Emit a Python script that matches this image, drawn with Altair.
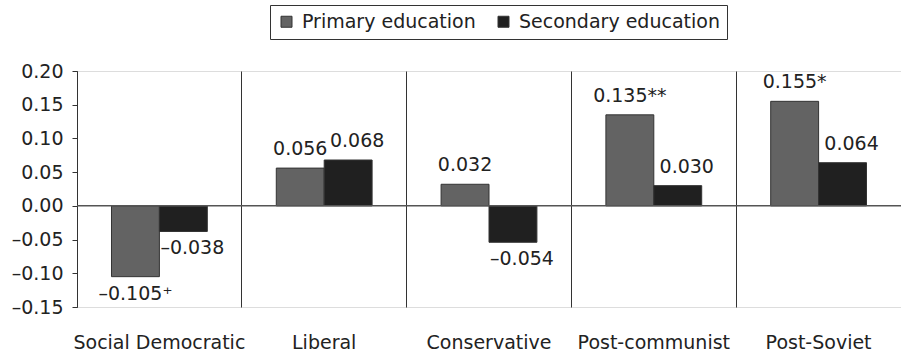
import altair as alt
import pandas as pd

categories = ["Social Democratic", "Liberal", "Conservative", "Post-communist", "Post-Soviet"]
series = ["Primary education", "Secondary education"]
primary_values = [-0.105, 0.056, 0.032, 0.135, 0.155]
secondary_values = [-0.038, 0.068, -0.054, 0.030, 0.064]
primary_labels = ["–0.105⁺", "0.056", "0.032", "0.135**", "0.155*"]
secondary_labels = ["–0.038", "0.068", "–0.054", "0.030", "0.064"]
y_ticks = [-0.15, -0.10, -0.05, 0.0, 0.05, 0.10, 0.15, 0.20]
colors = ["#636363", "#202020"]

FONT = "DejaVu Sans"
FS = 19

rows = []
for c, v, l in zip(categories, primary_values, primary_labels):
    rows.append({"category": c, "series": series[0], "value": v, "label": l})
for c, v, l in zip(categories, secondary_values, secondary_labels):
    rows.append({"category": c, "series": series[1], "value": v, "label": l})
df = pd.DataFrame(rows)

x_enc = alt.X(
    "category:N",
    sort=categories,
    scale=alt.Scale(paddingInner=0, paddingOuter=0),
    axis=alt.Axis(
        title=None, domain=False, ticks=False, grid=True, gridColor="#333333",
        gridWidth=1, bandPosition=0, labelAngle=0, labelPadding=26,
        labelFontSize=FS, labelFont=FONT, labelColor="#222222", labelLimit=300,
    ),
)
xoff_enc = alt.XOffset("series:N", sort=series, scale=alt.Scale(paddingInner=0, paddingOuter=0.72))
y_scale = alt.Scale(domain=[-0.15, 0.20], nice=False)
y_enc = alt.Y(
    "value:Q",
    scale=y_scale,
    axis=alt.Axis(
        title=None, values=y_ticks, grid=False, domainColor="#333333", tickColor="#333333",
        tickSize=5, labelPadding=9, labelFontSize=FS, labelFont=FONT, labelColor="#222222",
        labelOverlap=False, labelFlush=False,
        labelExpr="datum.value < 0 ? '–' + format(-datum.value, '.2f') : format(datum.value, '.2f')",
    ),
)

base = alt.Chart(df)

bars = base.mark_bar(stroke="#333333", strokeWidth=1).encode(
    x=x_enc,
    xOffset=xoff_enc,
    y=y_enc,
    color=alt.Color(
        "series:N",
        sort=series,
        scale=alt.Scale(domain=series, range=colors),
        legend=alt.Legend(
            title=None, orient="none", legendX=193, legendY=-66, direction="horizontal",
            strokeColor="#333333", fillColor="white", padding=7, symbolType="square",
            symbolSize=121, symbolStrokeColor="#333333", symbolStrokeWidth=1,
            labelFontSize=FS, labelFont=FONT, labelColor="#222222", labelLimit=400,
            columnPadding=18, labelOffset=6,
        ),
    ),
)

zero_line = alt.Chart(pd.DataFrame({"value": [0.0]})).mark_rule(color="#555555", strokeWidth=1.5).encode(
    y=y_enc
)

text_layers = []
for s, dx in zip(series, [0, 9]):
    for positive in [True, False]:
        cond = f"datum.series == '{s}' && datum.value {'>=' if positive else '<'} 0"
        t = base.transform_filter(cond).mark_text(
            baseline="bottom" if positive else "top",
            dy=-9 if positive else 8,
            dx=dx,
            fontSize=FS,
            font=FONT,
            color="#222222",
        ).encode(x=x_enc, xOffset=xoff_enc, y=y_enc, text="label:N")
        text_layers.append(t)

chart = alt.layer(bars, zero_line, *text_layers).properties(
    width=824,
    height=236,
    autosize=alt.AutoSizeParams(type="none"),
    padding={"left": 77, "top": 71, "right": 0, "bottom": 49},
).configure_view(stroke=None).configure(font=FONT)

chart.save("out.html", embed_options={"renderer": "svg", "actions": False})
